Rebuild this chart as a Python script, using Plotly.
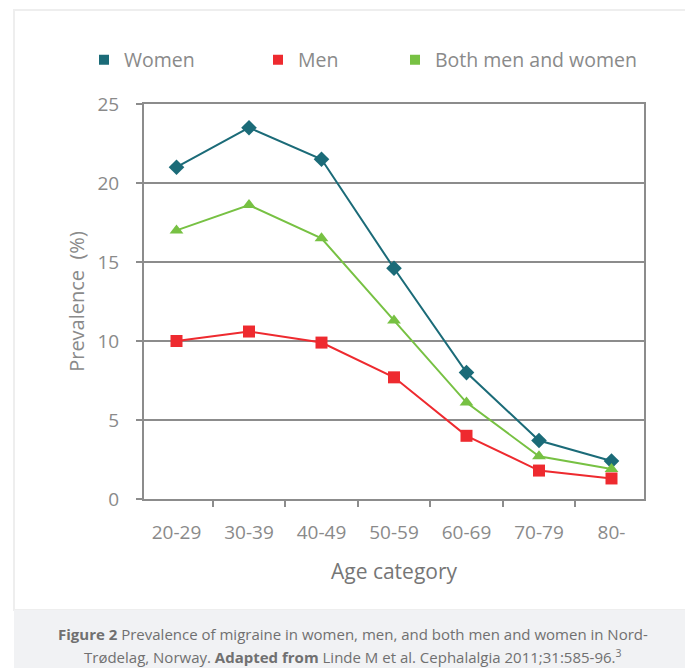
import plotly.graph_objects as go

categories = ["20-29", "30-39", "40-49", "50-59", "60-69", "70-79", "80-"]
women = [21.0, 23.5, 21.5, 14.6, 8.0, 3.7, 2.4]
men = [10.0, 10.6, 9.9, 7.7, 4.0, 1.8, 1.3]
both = [17.0, 18.6, 16.5, 11.3, 6.1, 2.7, 1.9]
y_ticks = [0, 5, 10, 15, 20, 25]

C_WOMEN = "#1b6b78"
C_MEN = "#ee2a2f"
C_BOTH = "#77c143"
GRID = "#8c8c8c"
TXT = "#8a8a8a"
FONT = "Open Sans"

# the page adds an 8px body margin; work in page pixels and shift
OFF = 8
W, H = 693 - OFF, 668 - OFF
L, R, T, B = 144 - OFF, 644 - OFF, 104 - OFF, 499 - OFF


def px(x):
    return (x - OFF - L) / (R - L)


def py(y):
    return (B - (y - OFF)) / (B - T)


fig = go.Figure()
series = [("Women", women, C_WOMEN, "diamond", 12, "legend"),
          ("Men", men, C_MEN, "square", 12, "legend2"),
          ("Both men and women", both, C_BOTH, "triangle-up", 12, "legend3")]
for name, vals, col, sym, sz, lg in series:
    fig.add_trace(go.Scatter(x=categories, y=vals, mode="lines+markers", name=name,
                             line=dict(color=col, width=2),
                             marker=dict(symbol=sym, size=sz, color=col),
                             showlegend=False, cliponaxis=False))
for name, vals, col, sym, sz, lg in series:
    fig.add_trace(go.Scatter(x=[None], y=[None], mode="markers", name=name,
                             marker=dict(symbol="square", size=10, color=col),
                             showlegend=True, legend=lg))

leg_common = dict(orientation="h", yanchor="middle", xanchor="left",
                  font=dict(family=FONT, size=19.5, color=TXT),
                  bgcolor="rgba(0,0,0,0)", borderwidth=0)
fig.update_layout(
    legend=dict(x=px(104 - 20), y=py(60), **leg_common),
    legend2=dict(x=px(278 - 20), y=py(60), **leg_common),
    legend3=dict(x=px(415 - 20), y=py(60), **leg_common),
)

fig.update_xaxes(type="category", showgrid=False, showline=True, mirror=True,
                 linecolor=GRID, linewidth=2, ticks="outside", tickson="boundaries",
                 ticklen=6, tickcolor=GRID, tickwidth=2, ticklabelstandoff=15,
                 tickfont=dict(family=FONT, size=19, color=TXT),
                 title=dict(text="Age category", font=dict(family=FONT, size=21, color="#767676"),
                            standoff=21))
fig.update_yaxes(range=[0, 25], tickvals=y_ticks, showgrid=True, gridcolor=GRID, gridwidth=2,
                 showline=True, mirror=True, linecolor=GRID, linewidth=2,
                 ticks="outside", ticklen=6, tickcolor=GRID, tickwidth=2, zeroline=False,
                 ticklabelstandoff=13,
                 tickfont=dict(family=FONT, size=19, color=TXT),
                 title=dict(text="Prevalence  (%)", font=dict(family=FONT, size=20, color=TXT),
                            standoff=7))

shapes = [
    dict(type="rect", xref="paper", yref="paper", x0=px(14), x1=px(693), y0=py(610), y1=py(10),
         line=dict(color="#eeeeee", width=2), fillcolor="rgba(0,0,0,0)", layer="below"),
    dict(type="rect", xref="paper", yref="paper", x0=px(14), x1=px(693), y0=py(668), y1=py(610),
         line=dict(width=0), fillcolor="#f1f2f4", layer="below"),
]
annotations = [
    dict(xref="paper", yref="paper", x=px(353), y=py(634), xanchor="center", yanchor="middle",
         showarrow=False, font=dict(family=FONT, size=15, color="#707070"),
         text="<b>Figure 2</b> Prevalence of migraine in women, men, and both men and women in Nord-"),
    dict(xref="paper", yref="paper", x=px(353), y=py(656), xanchor="center", yanchor="middle",
         showarrow=False, font=dict(family=FONT, size=15, color="#707070"),
         text="Trødelag, Norway. <b>Adapted from</b> Linde M et al. Cephalalgia 2011;31:585-96.<sup>3</sup>"),
]

fig.update_layout(width=W, height=H, margin=dict(l=L, r=W - R, t=T, b=H - B),
                  paper_bgcolor="white", plot_bgcolor="white",
                  shapes=shapes, annotations=annotations)

fig.write_html("out.html")
